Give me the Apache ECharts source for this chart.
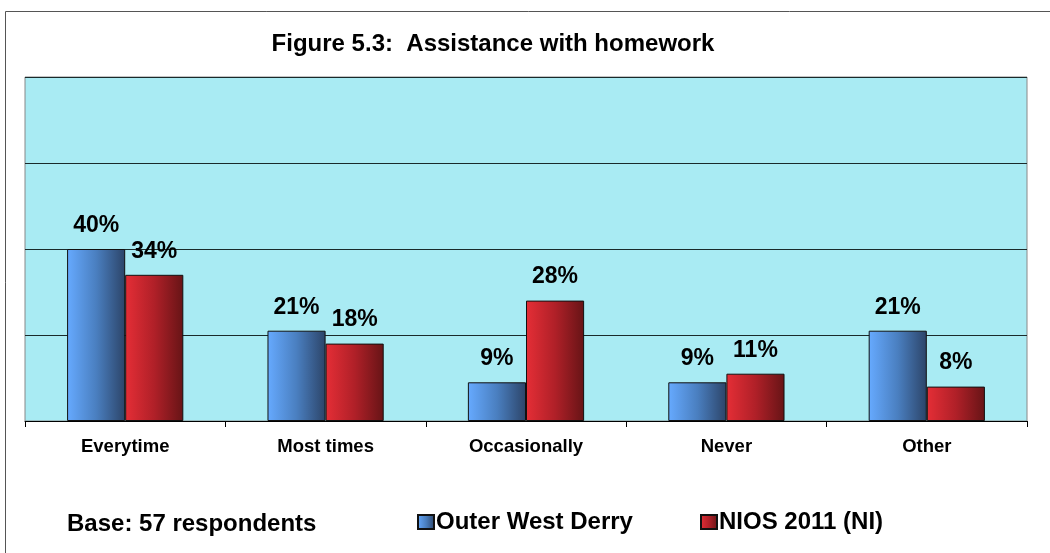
<!DOCTYPE html>
<html><head><meta charset="utf-8">
<script src="https://cdn.jsdelivr.net/npm/echarts@6/dist/echarts.min.js"></script>
<style>html,body{margin:0;padding:0;background:#fff}#c{width:1050px;height:553px}</style>
</head><body><div id="c"></div>
<script>
const categories = ['Everytime', 'Most times', 'Occasionally', 'Never', 'Other'];
const outerWestDerry = [40, 21, 9, 9, 21];
const nios2011 = [34, 18, 28, 11, 8];
const seriesNames = ['Outer West Derry', 'NIOS 2011 (NI)'];
const titleText = 'Figure 5.3:  Assistance with homework';
const baseText = 'Base: 57 respondents';

const F = '"Liberation Sans", Arial, sans-serif';
const blueGrad = new echarts.graphic.LinearGradient(0, 0, 1, 0, [
  {offset: 0, color: '#66aaff'}, {offset: 0.5, color: '#4a7fc0'}, {offset: 1, color: '#2c4468'}]);
const redGrad = new echarts.graphic.LinearGradient(0, 0, 1, 0, [
  {offset: 0, color: '#e52e36'}, {offset: 0.5, color: '#b02028'}, {offset: 1, color: '#661416'}]);

const chart = echarts.init(document.getElementById('c'), null, {renderer: 'canvas'});
const label = {show: true, position: 'top', distance: 12, formatter: '{c}%',
  fontFamily: F, fontWeight: 'bold', fontSize: 23, color: '#000'};
const legendText = {fontFamily: F, fontWeight: 'bold', fontSize: 24, color: '#000', padding: [0,0,0,-3]};
chart.setOption({
  animation: false,
  title: {text: titleText, left: 488, top: 27, textAlign: 'center',
    textStyle: {fontFamily: F, fontWeight: 'bold', fontSize: 24, color: '#000'}},
  graphic: [
    {type: 'rect', shape: {x: 5.5, y: 11.5, width: 1100, height: 600}, style: {fill: 'none', stroke: '#555', lineWidth: 1}, z: -10},
    {type: 'text', left: 67, top: 512, style: {text: baseText, fontFamily: F, fontWeight: 'bold', fontSize: 24, fill: '#000'}}
  ],
  legend: [
    {left: 417, top: 510, padding: 0, icon: 'rect', itemWidth: 16, itemHeight: 14, textStyle: legendText, data: [seriesNames[0]]},
    {left: 700, top: 510, padding: 0, icon: 'rect', itemWidth: 16, itemHeight: 14, textStyle: legendText, data: [seriesNames[1]]}
  ],
  grid: {left: 25, right: 23, top: 77, bottom: 132, show: true, backgroundColor: '#a9ebf3', borderColor: '#888', borderWidth: 1},
  xAxis: {type: 'category', data: categories,
    axisLine: {lineStyle: {color: '#000', width: 1}},
    axisTick: {show: true, length: 6, lineStyle: {color: '#000'}},
    axisLabel: {fontFamily: F, fontWeight: 'bold', fontSize: 18.5, color: '#000', margin: 16}},
  yAxis: {type: 'value', min: 0, max: 80, interval: 20,
    axisLabel: {show: false}, axisLine: {show: false}, axisTick: {show: false},
    splitLine: {lineStyle: {color: '#1a2a2a', width: 1}}},
  series: [
    {name: seriesNames[0], type: 'bar', data: outerWestDerry, barGap: '0%', barCategoryGap: '42%',
      itemStyle: {color: blueGrad, borderColor: '#111', borderWidth: 1}, label: label},
    {name: seriesNames[1], type: 'bar', data: nios2011,
      itemStyle: {color: redGrad, borderColor: '#111', borderWidth: 1}, label: label}
  ]
});
</script></body></html>
